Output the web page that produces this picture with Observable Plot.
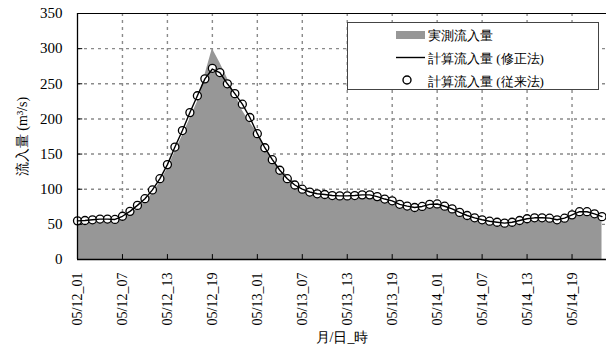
<!DOCTYPE html>
<html>
<head>
<meta charset="utf-8">
<script src="https://cdn.jsdelivr.net/npm/d3@7"></script>
<script src="https://cdn.jsdelivr.net/npm/@observablehq/plot@0.6"></script>
<style>
  html, body { margin: 0; padding: 0; background: #fff; }
  #chart { position: relative; width: 606px; height: 352px; }
  #legend { position: absolute; left: 0; top: 0; }
</style>
</head>
<body>
<div id="chart"></div>
<script>
// Hourly index 0 = 05/12_01
const measured = [54,54,55,56,56,56,58,64,72,82,94,110,129,153,176,200,224,262,300,280,258,236,212,195,180,159,143,130,119,110,104,100,97,95,93,92,92,92,92,91,89,86,83,79,77,76,76,78,78,76,72,67,63,59,56,54,53,52,53,55,57,58,58,58,57,59,63,67,68,65,61];
const modified = [55,55.5,56.5,57.5,57.5,57,61.5,68.5,77,86.5,99,115,135,160,183.5,209,233,257,271,266,250,236,221,202,179,159,142,127,115,106,100,96,93.5,92.5,91,90.5,90.5,91,92,92,89.5,86,83.5,78.5,76,74,75.5,78.5,79,75.8,72,67,62.6,59.3,56.5,54.5,53,51.7,53,55.5,58,59.3,59.3,58.8,56.5,58.8,63.5,68,68,65,61];
const conventional = [55,55.5,56.5,57.5,57.5,57,61.5,68.5,77,86.5,99,115,135,160,183.5,209,233,257,272,266,250,236,221,202,179,159,142,127,115,106,100,96,93.5,92.5,91,90.5,90.5,91,92,92,89.5,86,83.5,78.5,76,74,75.5,78.5,79,75.8,72,67,62.6,59.3,56.5,54.5,53,51.7,53,55.5,58,59.3,59.3,58.8,56.5,58.8,63.5,68,68,65,61];
const xTickIndex = [0,6,12,18,24,30,36,42,48,54,60,66];
const xTickLabels = ["05/12_01","05/12_07","05/12_13","05/12_19","05/13_01","05/13_07","05/13_13","05/13_19","05/14_01","05/14_07","05/14_13","05/14_19"];
const yTicks = [0,50,100,150,200,250,300,350];
const seriesNames = ["実測流入量","計算流入量 (修正法)","計算流入量 (従来法)"];

const rows = measured.map((v, i) => ({i, measured: v, modified: modified[i], conventional: conventional[i]}));
const labelOf = new Map(xTickIndex.map((k, j) => [k, xTickLabels[j]]));
const SERIF = "Times New Roman";

const chart = Plot.plot({
  width: 606,
  height: 352,
  marginLeft: 77,
  marginRight: 0,
  marginTop: 13,
  marginBottom: 93,
  style: "font-family: Times New Roman; font-size: 14px; color: #000; background: #fff;",
  x: {domain: [0, 70.6]},
  y: {domain: [0, 350]},
  marks: [
    Plot.ruleY(yTicks.filter(d => d > 0 && d < 350), {stroke: "#8a8a8a", strokeWidth: 1.4, strokeDasharray: "3,4"}),
    Plot.ruleX(xTickIndex.filter(d => d > 0), {stroke: "#8a8a8a", strokeWidth: 1.4, strokeDasharray: "3,4"}),
    Plot.areaY(rows, {x: "i", y: "measured", fill: "#979797"}),
    Plot.dot(rows, {x: "i", y: "conventional", r: 4, fill: "white", stroke: "black", strokeWidth: 1.3}),
    Plot.lineY(rows, {x: "i", y: "modified", stroke: "black", strokeWidth: 1.4}),
    Plot.ruleY([350], {stroke: "#000", strokeWidth: 1}),
    Plot.ruleY(yTicks, {x1: 0, x2: 0.7, stroke: "#000", strokeWidth: 1}),
    Plot.ruleX(xTickIndex, {y1: 0, y2: 7, stroke: "#000", strokeWidth: 1}),
    Plot.ruleX([0], {stroke: "#000", strokeWidth: 1.3}),
    Plot.ruleY([0], {stroke: "#000", strokeWidth: 1.3}),
    Plot.axisY(yTicks, {tickSize: 0, tickPadding: 15, fontSize: 15, fontFamily: SERIF, label: "流入量 (m³/s)", labelAnchor: "center", labelArrow: "none", labelOffset: 60}),
    Plot.axisX(xTickIndex, {tickSize: 0, tickPadding: 13, tickRotate: -90, fontSize: 14, fontFamily: SERIF, tickFormat: d => labelOf.get(d), label: "月/日_時", labelAnchor: "center", labelArrow: "none", labelOffset: 82})
  ]
});
document.getElementById("chart").appendChild(chart);

const root = d3.select(chart);
root.selectAll("g").filter(function() { return this.getAttribute("aria-label") && this.getAttribute("aria-label").includes("axis"); })
  .attr("font-family", SERIF).style("font-family", SERIF).style("font-variant", "normal").attr("font-variant", null);
root.selectAll("text").style("font-family", SERIF).style("font-variant", "normal").style("fill", "#000");
root.selectAll('g[aria-label="y-axis tick label"] text').style("font-size", "15px");
root.selectAll('g[aria-label="x-axis tick label"] text').style("font-size", "14px");
root.selectAll('g[aria-label="y-axis label"] text').style("font-size", "14px");
root.selectAll('g[aria-label="x-axis label"] text').style("font-size", "14px");

const lg = d3.select("#chart").append("svg").attr("id", "legend")
  .attr("width", 606).attr("height", 352).attr("text-anchor", "start");
lg.append("rect").attr("x", 347.5).attr("y", 22.5).attr("width", 251).attr("height", 67)
  .attr("fill", "white").attr("stroke", "#444").attr("stroke-width", 1);
lg.append("rect").attr("x", 396).attr("y", 31).attr("width", 29).attr("height", 8).attr("fill", "#979797");
lg.append("line").attr("x1", 396).attr("x2", 425).attr("y1", 57.5).attr("y2", 57.5).attr("stroke", "black").attr("stroke-width", 1.4);
lg.append("circle").attr("cx", 407).attr("cy", 80).attr("r", 4).attr("fill", "white").attr("stroke", "black").attr("stroke-width", 1.4);
const ty = [35, 58, 81];
seriesNames.forEach((s, k) => {
  lg.append("text").attr("x", 428).attr("y", ty[k]).attr("dy", "0.35em").attr("fill", "black")
    .style("font-family", SERIF).style("font-size", "13px").text(s);
});
</script>
</body>
</html>
